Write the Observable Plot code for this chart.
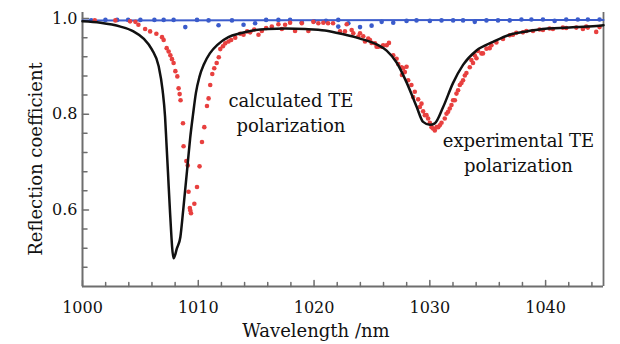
<!DOCTYPE html>
<html><head><meta charset="utf-8">
<script src="https://cdn.jsdelivr.net/npm/d3@7"></script>
<script src="https://cdn.jsdelivr.net/npm/@observablehq/plot@0.6"></script>
<style>body{margin:0;background:#fff}</style>
</head><body><div id="chart"></div>
<script>
// x tick values / labels
const xDomain = [1000, 1045];
const yDomain = [0.44, 1.0125];
const xTickValues = [1000, 1010, 1020, 1030, 1040];
const xTickLabels = ["1000", "1010", "1020", "1030", "1040"];
const xMinorTicks = [1002,1004,1006,1008,1012,1014,1016,1018,1022,1024,1026,1028,1032,1034,1036,1038,1042,1044];
const yTickValues = [0.6, 0.8, 1.0];
const yTickLabels = ["0.6", "0.8", "1.0"];
const yMinorTicks = [0.48,0.52,0.56,0.64,0.68,0.72,0.76,0.84,0.88,0.92,0.96];

// blue (TM) experimental points [wavelength, R]
const bluePoints = [[1000.75,0.996],[1001.98,0.997],[1002.99,0.997],[1003.94,0.997],[1005.0,0.997],[1006.21,0.997],[1007.01,0.997],[1007.87,0.997],[1008.88,0.982],[1009.89,0.997],[1010.89,0.996],[1011.75,0.986],[1012.91,0.996],[1013.91,0.987],[1014.91,0.990],[1015.86,0.997],[1016.92,0.997],[1017.93,0.997],[1018.94,0.992],[1020.0,0.994],[1021.03,0.995],[1022.09,0.997],[1022.09,0.983],[1022.96,0.990],[1023.97,0.982],[1024.97,0.985],[1025.84,0.993],[1026.84,0.991],[1027.99,0.995],[1028.85,0.996],[1030.0,0.995],[1031.01,0.996],[1032.01,0.996],[1032.87,0.996],[1033.88,0.993],[1034.89,0.996],[1035.89,0.996],[1036.9,0.996],[1037.91,0.998],[1038.77,0.998],[1039.77,0.998],[1040.78,0.995],[1041.78,0.998],[1042.78,0.998],[1043.65,0.998],[1044.66,0.998]];
// blue calculated line
const blueLine = [[1000,0.996],[1045,0.997]];

// red (TE) experimental points
const redPoints = [[1001.06,0.996],[1002.84,0.996],[1004.11,0.994],[1004.57,0.993],[1004.83,0.987],[1005.41,0.978],[1005.84,0.973],[1006.38,0.968],[1006.87,0.961],[1007.01,0.955],[1007.27,0.938],[1007.44,0.931],[1007.59,0.923],[1007.73,0.915],[1007.87,0.907],[1008.02,0.890],[1008.19,0.879],[1008.30,0.854],[1008.39,0.842],[1008.47,0.829],[1008.68,0.781],[1008.73,0.733],[1008.97,0.702],[1009.09,0.693],[1009.16,0.638],[1009.27,0.604],[1009.31,0.599],[1009.37,0.593],[1009.66,0.613],[1009.89,0.648],[1010.11,0.691],[1010.32,0.742],[1010.52,0.773],[1010.75,0.817],[1010.89,0.833],[1011.03,0.861],[1011.21,0.884],[1011.38,0.896],[1011.59,0.907],[1011.77,0.919],[1011.90,0.936],[1012.13,0.942],[1012.33,0.948],[1012.61,0.952],[1012.84,0.955],[1013.19,0.960],[1013.62,0.968],[1013.91,0.966],[1014.22,0.973],[1014.48,0.971],[1014.83,0.977],[1015.20,0.966],[1015.49,0.974],[1015.86,0.980],[1016.35,0.983],[1016.92,0.988],[1017.22,0.978],[1017.50,0.987],[1017.93,0.991],[1018.36,0.974],[1018.94,0.990],[1019.51,0.974],[1019.94,0.993],[1020.37,0.990],[1020.80,0.991],[1021.21,0.990],[1021.64,0.990],[1022.24,0.973],[1022.67,0.973],[1022.82,0.988],[1023.25,0.976],[1023.39,0.969],[1023.82,0.962],[1023.97,0.969],[1024.25,0.963],[1024.40,0.952],[1024.68,0.958],[1024.83,0.955],[1024.97,0.949],[1025.26,0.948],[1025.40,0.941],[1025.54,0.941],[1025.84,0.941],[1025.97,0.944],[1026.27,0.944],[1026.47,0.949],[1026.84,0.923],[1027.13,0.916],[1027.27,0.905],[1027.56,0.898],[1027.59,0.882],[1027.70,0.896],[1027.84,0.888],[1027.99,0.899],[1028.13,0.871],[1028.41,0.861],[1028.56,0.836],[1028.70,0.847],[1028.99,0.831],[1029.14,0.815],[1029.28,0.822],[1029.42,0.806],[1029.57,0.798],[1029.71,0.798],[1029.85,0.791],[1030.00,0.782],[1030.15,0.773],[1030.28,0.770],[1030.43,0.766],[1030.58,0.773],[1030.72,0.773],[1030.86,0.777],[1031.01,0.782],[1031.29,0.791],[1031.44,0.801],[1031.58,0.805],[1031.72,0.812],[1031.87,0.819],[1032.01,0.829],[1032.16,0.829],[1032.30,0.843],[1032.44,0.850],[1032.59,0.861],[1032.73,0.865],[1032.87,0.871],[1033.02,0.881],[1033.16,0.886],[1033.45,0.898],[1033.59,0.913],[1033.73,0.907],[1033.88,0.923],[1034.03,0.917],[1034.16,0.932],[1034.46,0.927],[1034.59,0.927],[1034.89,0.937],[1035.17,0.938],[1035.32,0.944],[1035.75,0.950],[1036.32,0.957],[1036.90,0.965],[1037.18,0.966],[1037.47,0.970],[1038.04,0.971],[1038.34,0.974],[1038.91,0.974],[1039.48,0.977],[1039.77,0.976],[1040.34,0.979],[1040.63,0.978],[1041.49,0.981],[1041.78,0.980],[1042.65,0.981],[1043.22,0.978],[1043.51,0.983],[1043.65,0.981],[1044.37,0.972],[1044.66,0.982]];

// calculated TE curve
const calcLine = [[1000.0,0.994],[1001.55,0.991],[1003.28,0.983],[1004.4,0.973],[1005.28,0.958],[1006.0,0.935],[1006.58,0.900],[1006.92,0.850],[1007.13,0.795],[1007.25,0.740],[1007.38,0.680],[1007.55,0.600],[1007.87,0.499],[1008.16,0.520],[1008.45,0.543],[1008.7,0.600],[1009.1,0.700],[1009.3,0.750],[1009.55,0.800],[1009.8,0.845],[1010.1,0.878],[1010.5,0.905],[1011.0,0.927],[1011.7,0.946],[1012.6,0.961],[1013.62,0.969],[1014.74,0.975],[1016.03,0.978],[1017.5,0.979],[1019.22,0.978],[1020.95,0.975],[1022.53,0.967],[1023.97,0.958],[1025.4,0.946],[1026.27,0.933],[1027.13,0.908],[1028.0,0.866],[1028.85,0.816],[1029.42,0.784],[1030.0,0.778],[1030.43,0.781],[1031.15,0.815],[1032.0,0.865],[1032.87,0.903],[1034.03,0.933],[1035.46,0.951],[1036.9,0.966],[1038.34,0.973],[1039.77,0.978],[1041.21,0.980],[1042.65,0.982],[1044.66,0.985],[1045.0,0.986]];

const notes = [
  {text: "calculated TE\npolarization", x: 1018.0, y: 0.852},
  {text: "experimental TE\npolarization", x: 1037.65, y: 0.768}
];

const axisColor = "#6e6e6e";
const serif = "DejaVu Serif";

const chart = Plot.plot({
  width: 620, height: 344,
  marginLeft: 82, marginRight: 17, marginTop: 12, marginBottom: 58,
  x: {domain: xDomain, axis: null},
  y: {domain: yDomain, axis: null},
  style: {fontFamily: serif, background: "transparent", overflow: "visible", color: "#111"},
  marks: [
    Plot.ruleY([yDomain[0]], {stroke: axisColor, strokeWidth: 2}),
    Plot.ruleX([xDomain[0]], {stroke: axisColor, strokeWidth: 2}),
    Plot.ruleX([xDomain[1]], {stroke: axisColor, strokeWidth: 1.8}),
    Plot.vector(xMinorTicks, {x: d => d, frameAnchor: "bottom", length: 4, rotate: 0, anchor: "start", r: 0, stroke: axisColor, strokeWidth: 1.5}),
    Plot.vector(xTickValues, {x: d => d, frameAnchor: "bottom", length: 6, rotate: 0, anchor: "start", r: 0, stroke: axisColor, strokeWidth: 1.5}),
    Plot.vector(yMinorTicks, {y: d => d, frameAnchor: "left", length: 4.5, rotate: 90, anchor: "start", r: 0, stroke: axisColor, strokeWidth: 1.5}),
    Plot.vector(yTickValues, {y: d => d, frameAnchor: "left", length: 6, rotate: 90, anchor: "start", r: 0, stroke: axisColor, strokeWidth: 1.5}),
    Plot.text(xTickValues, {x: d => d, text: (d, i) => xTickLabels[i], frameAnchor: "bottom", lineAnchor: "top", dy: 15, fontSize: 16, fill: "#111"}),
    Plot.text(yTickValues, {y: d => d, text: (d, i) => yTickLabels[i], frameAnchor: "left", textAnchor: "end", dx: -5, fontSize: 16, fill: "#111"}),
    Plot.line(blueLine, {x: d => d[0], y: d => d[1], stroke: "#3c5ccc", strokeWidth: 2}),
    Plot.dot(bluePoints, {x: d => d[0], y: d => d[1], r: 2.3, fill: "#3a5bcb", stroke: "none"}),
    Plot.dot(redPoints, {x: d => d[0], y: d => d[1], r: 2.3, fill: "#e8403f", stroke: "none"}),
    Plot.line(calcLine, {x: d => d[0], y: d => d[1], stroke: "#111", strokeWidth: 2.5, curve: "monotone-x"}),
    Plot.text(notes, {x: "x", y: "y", text: "text", lineAnchor: "top", lineHeight: 1.39, fontSize: 18, fill: "#111"}),
    Plot.text(["Wavelength /nm"], {frameAnchor: "bottom", textAnchor: "middle", lineAnchor: "top", dx: -27, dy: 38, fontSize: 18, fill: "#111"}),
    Plot.text(["Reflection coefficient"], {frameAnchor: "left", textAnchor: "middle", lineAnchor: "middle", rotate: -90, dx: -46, dy: 9.5, fontSize: 18, fill: "#111"})
  ]
});
document.getElementById("chart").appendChild(chart);
</script>
</body></html>
